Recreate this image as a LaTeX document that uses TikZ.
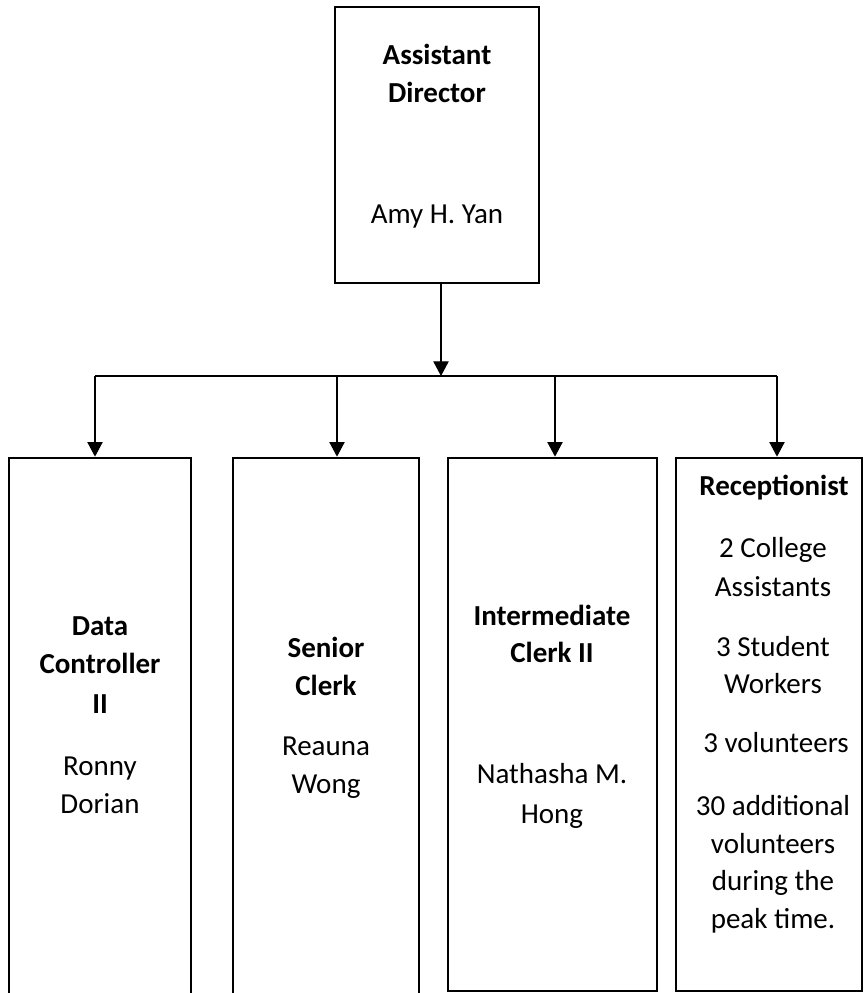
\documentclass[tikz,border=0pt]{standalone}
\usepackage{fontspec}
\setmainfont{Carlito}
\usetikzlibrary{arrows.meta}

\begin{document}
\begin{tikzpicture}[x=0.75pt,y=0.75pt,yscale=-1,xscale=1,
  box/.style={draw, line width=2pt, inner sep=0pt},
  lbl/.style={anchor=base, inner sep=0pt, font=\fontsize{21.75}{26}\selectfont},
  ttl/.style={anchor=base, inner sep=0pt, font=\fontsize{21.75}{26}\selectfont\bfseries},
  arr/.style={line width=0.9pt, -{Triangle[length=11pt,width=11.5pt]}}]
%set diagram size 864 x 993
\useasboundingbox (0,0) rectangle (864,993);
\clip (0,0) rectangle (864,993);

%Boxes
\node [box, minimum width=153pt, minimum height=207pt] (b0) at (437,145) {};
\node [box, minimum width=136.5pt, minimum height=410.25pt] (b1) at (100,731.5) {};
\node [box, minimum width=139.5pt, minimum height=410.25pt] (b2) at (326,731.5) {};
\node [box, minimum width=156.75pt, minimum height=399.75pt] (b3) at (552.5,724.5) {};
\node [box, minimum width=139.5pt, minimum height=399.75pt] (b4) at (769,724.5) {};

%Junctions
\coordinate (j0) at (441,376);
\coordinate (j1) at (95,376);
\coordinate (j2) at (337,376);
\coordinate (j3) at (555,376);
\coordinate (j4) at (777,376);

%Straight Lines
\draw [arr] (b0.south -| j0) -- (j0);
\draw [line width=0.9pt] (j1) -- (j4);
\draw [arr] (j1) -- (j1 |- b1.north);
\draw [arr] (j2) -- (j2 |- b2.north);
\draw [arr] (j3) -- (j3 |- b3.north);
\draw [arr] (j4) -- (j4 |- b4.north);

% Text Node
\node [ttl] (t0a) at (437,64) {Assistant};
\node [ttl] (t0b) at (437,102) {Director};
\node [lbl] (t0c) at (437,223) {Amy H. Yan};
% Text Node
\node [ttl] (t1a) at (100,635) {Data};
\node [ttl] (t1b) at (100,673) {Controller};
\node [ttl] (t1c) at (100,713) {II};
\node [lbl] (t1d) at (100,775) {Ronny};
\node [lbl] (t1e) at (100,813) {Dorian};
% Text Node
\node [ttl] (t2a) at (326,657) {Senior};
\node [ttl] (t2b) at (326,695) {Clerk};
\node [lbl] (t2c) at (326,755) {Reauna};
\node [lbl] (t2d) at (326,793) {Wong};
% Text Node
\node [ttl] (t3a) at (552,625) {Intermediate};
\node [ttl] (t3b) at (552,662) {Clerk II};
\node [lbl] (t3c) at (552,783) {Nathasha M.};
\node [lbl] (t3d) at (552,823) {Hong};
% Text Node
\node [ttl] (t4a) at (774,495) {Receptionist};
\node [lbl] (t4b) at (773,557) {2 College};
\node [lbl] (t4c) at (773,596) {Assistants};
\node [lbl] (t4d) at (773,656) {3 Student};
\node [lbl] (t4e) at (773,693) {Workers};
\node [lbl] (t4f) at (776,752) {3 volunteers};
\node [lbl] (t4g) at (773,815) {30 additional};
\node [lbl] (t4h) at (773,853) {volunteers};
\node [lbl] (t4i) at (773,890) {during the};
\node [lbl] (t4j) at (773,928) {peak time.};

\end{tikzpicture}
\end{document}
